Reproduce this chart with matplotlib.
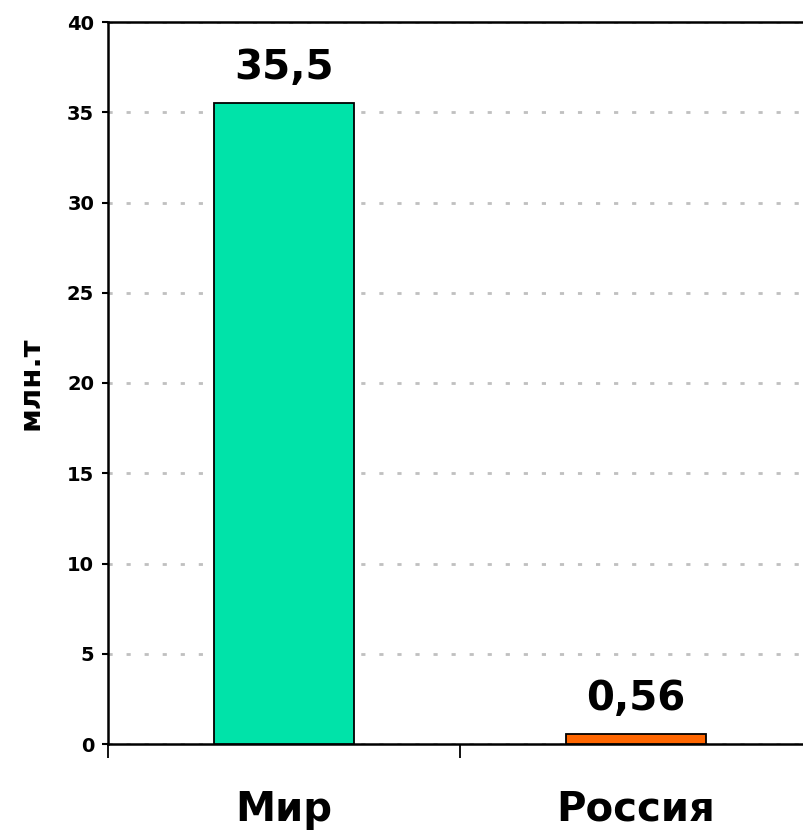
import numpy as np
import matplotlib.pyplot as plt

# Dati
categorie = ['Мир', 'Россия']
valori = [35.5, 0.56]
etichette = ['35,5', '0,56']
colori = ['#00E3A9', '#FF6600']

fig = plt.figure(figsize=(8.04, 8.35), dpi=100)
ax = fig.add_axes([108 / 804, 91 / 835, 704 / 804, 722 / 835])

x = np.arange(len(categorie))
ax.bar(x, valori, width=0.4, color=colori, edgecolor='black', linewidth=1.3, zorder=3)

for xi, v, lab in zip(x, valori, etichette):
    ax.annotate(lab, (xi, v), xytext=(0, 11), textcoords='offset points',
                ha='center', va='bottom', fontsize=29, fontweight='bold')

ax.set_xlim(-0.5, 1.5)
ax.set_ylim(0, 40)
ax.set_yticks(np.arange(0, 41, 5))
ax.set_yticklabels([str(v) for v in range(0, 41, 5)], fontsize=14, fontweight='bold')
ax.tick_params(axis='y', length=4, width=1.5, pad=6)

# tacche di separazione categorie
ax.set_xticks([-0.5, 0.5, 1.5])
ax.set_xticklabels([])
ax.tick_params(axis='x', which='major', length=10, width=1.3, direction='out')
ax.set_xticks(x, minor=True)
ax.set_xticklabels(categorie, minor=True, fontsize=29, fontweight='bold')
ax.tick_params(axis='x', which='minor', length=0, pad=33)

ax.set_ylabel('млн.т', fontsize=21, fontweight='bold', labelpad=16)

ax.yaxis.grid(True, color='#c0c0c0', linestyle=(0, (1.5, 5)), linewidth=2)
ax.set_axisbelow(True)

for s in ['left', 'bottom', 'top']:
    ax.spines[s].set_linewidth(1.8)
ax.spines['right'].set_visible(False)

plt.savefig('out.png', dpi=100)
